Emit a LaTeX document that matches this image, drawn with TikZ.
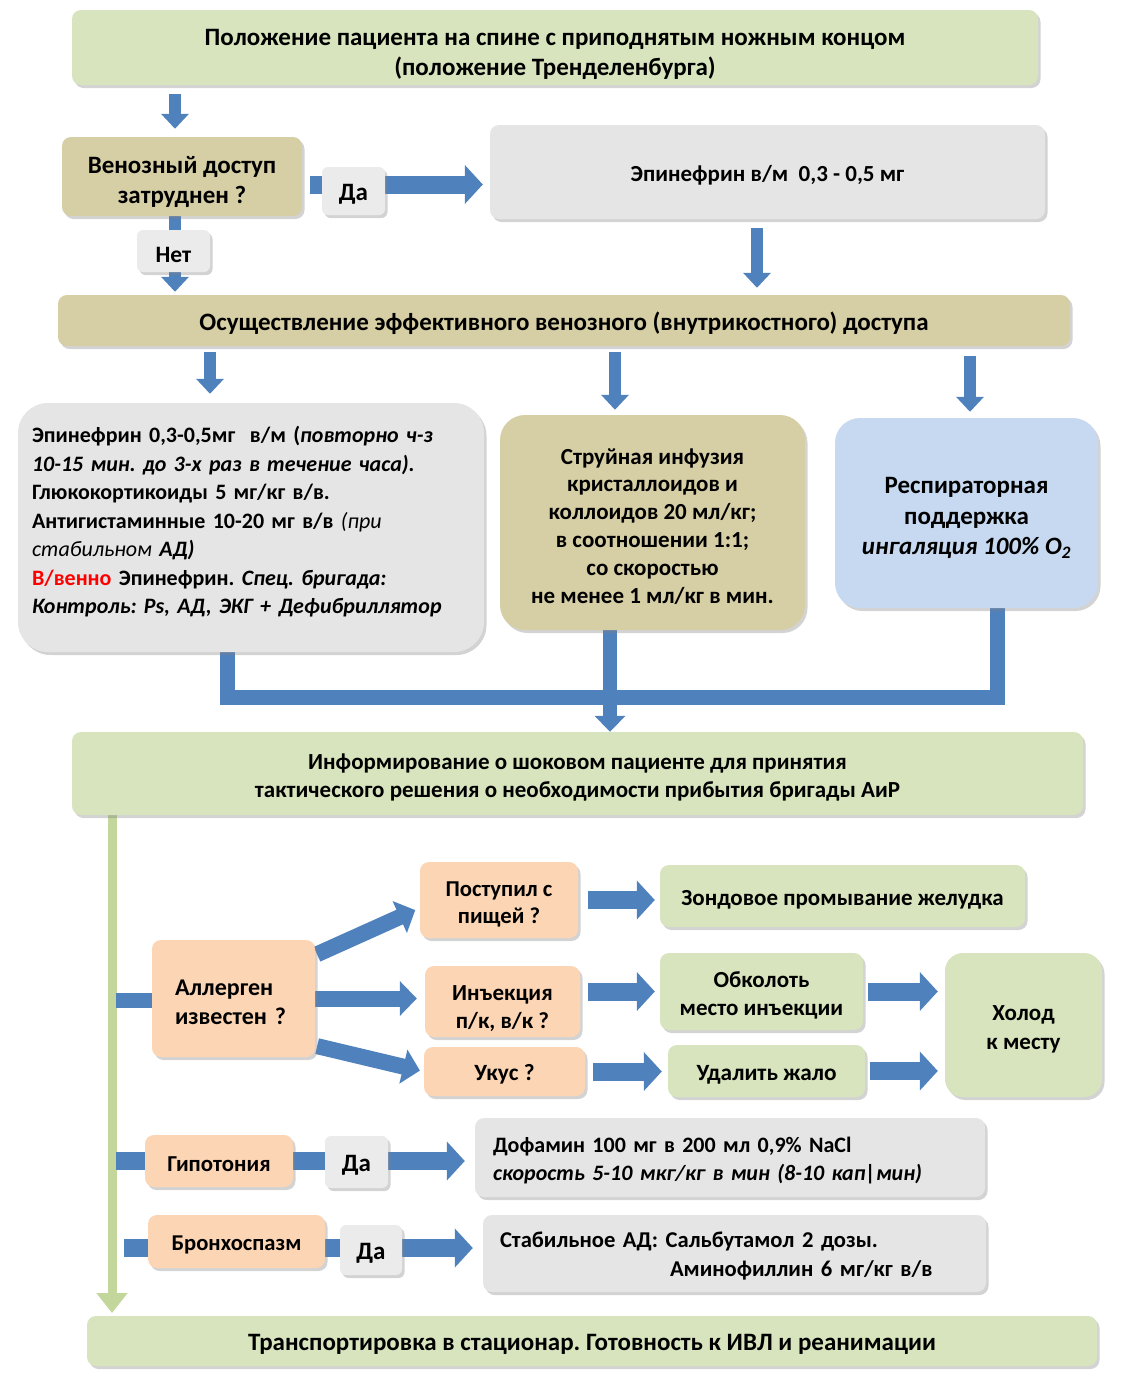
\documentclass[tikz,border=0pt]{standalone}
\usepackage{fontspec}
\setmainfont{Carlito}
\usetikzlibrary{arrows.meta,shadows,backgrounds,calc}
\definecolor{cgreen}{HTML}{D7E4BD}
\definecolor{ckhaki}{HTML}{D6CEA4}
\definecolor{cgray}{HTML}{E5E5E5}
\definecolor{clab}{HTML}{EBEBEB}
\definecolor{cpeach}{HTML}{FCD5B5}
\definecolor{cblue}{HTML}{C6D9F1}
\definecolor{carrow}{HTML}{4F81BD}
\definecolor{cline}{HTML}{C3D69B}
\newcommand{\fs}[2]{\bfseries\fontsize{#1}{#2}\selectfont}
\newcommand{\sx}[1]{\rule{0pt}{#1em}}
\frenchspacing
\tikzset{
  box/.style={rounded corners=9pt, align=center, inner sep=2pt,
    drop shadow={shadow xshift=2.5pt, shadow yshift=-3pt, opacity=0.35},
    font=\fs{23}{28}, execute at begin node={\rule{0pt}{0.95em}}},
  gbox/.style={box, fill=cgreen},
  kbox/.style={box, fill=ckhaki},
  graybox/.style={box, fill=cgray},
  pbox/.style={box, fill=cpeach},
  blubox/.style={box, fill=cblue},
  lab/.style={box, fill=clab, rounded corners=6pt},
  varrow/.style={draw=carrow, line width=12pt, -{Triangle[length=15pt,width=27pt]}},
  harrow/.style={draw=carrow, line width=18pt, -{Triangle[length=18pt,width=38pt]}},
  sarrow/.style={draw=carrow, line width=16pt, -{Triangle[length=17pt,width=34pt]}},
  merge/.style={draw=carrow, line width=15pt, line join=miter},
  stub/.style={draw=carrow, line width=15pt},
  gline/.style={draw=cline, line width=9pt, -{Triangle[length=20pt,width=30pt]}},
}
\begin{document}
\begin{tikzpicture}[x=1pt,y=-1pt]
\useasboundingbox (0,0) rectangle (1125,1382);

% nodes
\node[gbox, minimum width=966pt, minimum height=75pt, font=\fs{25}{30}] (top) at (555,47.5)
  {\sx{1.24}Положение пациента на спине с приподнятым ножным концом\\(положение Тренделенбурга)};
\node[kbox, minimum width=240pt, minimum height=79pt, font=\fs{25}{30}] (ven) at (182,176.5) {\sx{1.16}Венозный доступ\\затруднен ?};
\node[graybox, minimum width=555pt, minimum height=94pt] (epi) at (767.5,172) {Эпинефрин в/м\ \ 0,3 - 0,5 мг};
\node[kbox, minimum width=1012pt, minimum height=51pt, font=\fs{25}{30}] (access) at (564,320.5)
  {Осуществление эффективного венозного (внутрикостного) доступа};

\node[graybox, align=left, text width=438pt, inner xsep=14pt, minimum height=249pt, rounded corners=30pt,
  font=\fs{22}{28.5}] (lbox) at (251,527.5)
  {Эпинефрин 0,3-0,5мг\ \ в/м (\textit{повторно ч-з}\\
   \textit{10-15 мин. до 3-х раз в течение часа).}\\
   Глюкокортикоиды 5 мг/кг в/в.\\
   Антигистаминные 10-20 мг в/в {\mdseries\itshape (при}\\
   {\mdseries\itshape стабильном} \textit{АД)}\\
   \textcolor{red}{В/венно} Эпинефрин. \textit{Спец. бригада:}\\
   \textit{Контроль: Ps, АД, ЭКГ + Дефибриллятор}\\[-9.5pt]\mbox{}};
\node[kbox, minimum width=305pt, minimum height=215pt, rounded corners=25pt,
  font=\fs{23}{27.8}] (mbox) at (652.5,522.5)
  {\sx{1.01}Струйная инфузия\\кристаллоидов и\\коллоидов 20 мл/кг;\\в соотношении 1:1;\\со скоростью\\не менее 1 мл/кг в мин.};
\node[blubox, minimum width=263pt, minimum height=190pt, rounded corners=25pt,
  font=\fs{25}{30.5}] (bbox) at (966.5,513)
  {\sx{1.07}Респираторная\\поддержка\\\textit{ингаляция 100\% O\textsubscript{2}}};

\node[gbox, minimum width=1011pt, minimum height=83pt] (info) at (577.5,773.5)
  {\sx{1.01}Информирование о шоковом пациенте для принятия\\тактического решения о необходимости прибытия бригады АиР};

\node[pbox, minimum width=163pt, minimum height=117pt, align=left, text width=117pt, inner xsep=23pt,
  font=\fs{24}{29.5}] (all) at (233.5,998.5) {Аллерген\\известен ?};
\node[pbox, minimum width=158pt, minimum height=76pt, font=\fs{22.7}{27}] (food) at (499,900) {\sx{1.01}Поступил с\\пищей ?};
\node[pbox, minimum width=155pt, minimum height=71pt] (inj) at (502.5,1001.5) {\sx{1.26}Инъекция\\п/к, в/к ?};
\node[pbox, minimum width=161pt, minimum height=49pt, font=\fs{23.3}{28}] (bite) at (504.5,1071.5) {Укус ?};
\node[gbox, minimum width=365pt, minimum height=62pt] (zond) at (842.5,896) {Зондовое промывание желудка};
\node[gbox, minimum width=203pt, minimum height=77pt] (obk) at (761.5,991.5) {\sx{1.01}Обколоть\\место инъекции};
\node[gbox, minimum width=197pt, minimum height=52pt, font=\fs{23.3}{28}] (udal) at (766.5,1071) {Удалить жало};
\node[gbox, minimum width=157pt, minimum height=144pt, rounded corners=18pt, font=\fs{23}{29}] (holod) at (1023.5,1025) {\sx{1.01}Холод\\к месту};

\node[graybox, align=left, text width=474pt, inner xsep=18pt, minimum height=79pt, font=\fs{22}{28}] (dop) at (730,1157.5)
  {Дофамин 100 мг в 200 мл 0,9\% NaCl\\\textit{скорость 5-10 мкг/кг в мин (8-10 кап|мин)}};
\node[graybox, align=left, text width=469pt, inner xsep=17pt, minimum height=77pt, font=\fs{22.6}{29}] (salb) at (734.5,1253.5)
  {Стабильное АД: Сальбутамол 2 дозы.\\\hspace*{170pt}Аминофиллин 6 мг/кг в/в};
\node[gbox, minimum width=1010pt, minimum height=50pt, font=\fs{25}{30}] (bottom) at (592,1341)
  {Транспортировка в стационар. Готовность к ИВЛ и реанимации};

% junction coordinates
\coordinate (cx1) at (175,0);
\coordinate (cx2) at (757,0);
\coordinate (cx3) at (210,0);
\coordinate (cx4) at (615,0);
\coordinate (cx5) at (970,0);
\coordinate (jl) at (227,697);
\coordinate (jm) at (610,697);
\coordinate (jr) at (997,697);
\coordinate (gtop) at (112,815);
\coordinate (gbot) at (112,1313);
\coordinate (ga) at (116,1000);
\coordinate (gh) at (116,1161);
\coordinate (gb) at (124,1248);

% arrows under the boxes
\begin{scope}[on background layer]
\draw[varrow, shorten <=9pt, shorten >=8pt] (top.south -| cx1) -- (ven.north -| cx1);
\draw[varrow, shorten >=3pt] (ven.south -| cx1) -- (access.north -| cx1);
\draw[harrow, shorten <=8pt, shorten >=7pt] ($(ven.east)+(0,8)$) -- ($(ven.east -| epi.west)+(0,8)$);
\draw[varrow, shorten <=9pt, shorten >=7pt] (epi.south -| cx2) -- (access.north -| cx2);
\draw[varrow, shorten <=6pt, shorten >=9pt] (access.south -| cx3) -- (lbox.north -| cx3);
\draw[varrow, shorten <=6pt, shorten >=5pt] (access.south -| cx4) -- (mbox.north -| cx4);
\draw[varrow, shorten <=10pt, shorten >=6pt] (access.south -| cx5) -- (bbox.north -| cx5);
\draw[merge] (lbox.south -| jl) -- (jl) -- (jr) -- (bbox.south -| jr);
\draw[varrow, line width=14pt, -{Triangle[length=16pt,width=30pt]}] (mbox.south -| jm) -- (info.north -| jm);
\draw[gline] (gtop) -- (gbot);
\draw[stub] (ga) -- (all.west |- ga);
\draw[sarrow, shorten <=2pt, shorten >=5pt] (all.28) -- ($(food.west)+(0,8)$);
\draw[sarrow, shorten >=8pt] (all.east) -- (all.east -| inj.west);
\draw[sarrow, shorten <=2pt, shorten >=4pt] (all.-30) -- (bite.west);
\draw[harrow, shorten <=10pt, shorten >=5pt] (food.east) -- (food.east -| zond.west);
\draw[harrow, shorten <=8pt, shorten >=5pt] (obk.west -| inj.east) -- (obk.west);
\draw[harrow, shorten <=8pt, shorten >=6pt] (bite.east) -- (bite.east -| udal.west);
\draw[harrow, shorten <=5pt, shorten >=7pt] (obk.east) -- (obk.east -| holod.west);
\draw[harrow, shorten <=5pt, shorten >=7pt] (udal.east) -- (udal.east -| holod.west);
\draw[harrow, shorten >=10pt] (gh) -- (gh -| dop.west);
\draw[harrow, shorten >=10pt] (gb) -- (gb -| salb.west);
\end{scope}

% labels on arrows
\node[lab, minimum width=63pt, minimum height=48pt, font=\fs{25}{30}] (da1) at (353.5,191) {Да};
\node[lab, minimum width=73pt, minimum height=42pt, font=\fs{23.5}{28}] (net) at (173.5,251) {Нет};
\node[pbox, minimum width=148pt, minimum height=52pt, font=\fs{22.8}{28}] (hyp) at (219,1161) {Гипотония};
\node[lab, minimum width=63pt, minimum height=52pt, font=\fs{25}{30}] (da2) at (356.5,1162) {Да};
\node[pbox, minimum width=177pt, minimum height=53pt, font=\fs{22.6}{28}] (bron) at (236.5,1241.5) {Бронхоспазм};
\node[lab, minimum width=62pt, minimum height=50pt, font=\fs{25}{30}] (da3) at (371,1250) {Да};
\end{tikzpicture}
\end{document}
